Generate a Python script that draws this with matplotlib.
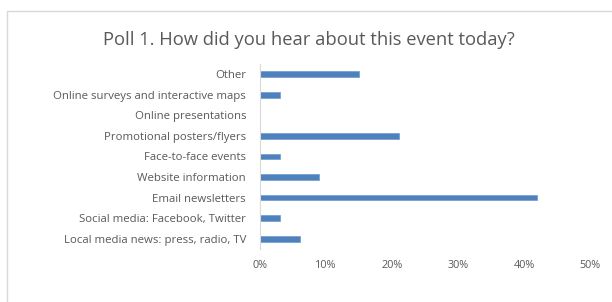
import matplotlib
matplotlib.use("Agg")
import matplotlib.pyplot as plt
from matplotlib.patches import Rectangle
from matplotlib.ticker import PercentFormatter

categories = ["Local media news: press, radio, TV",
              "Social media: Facebook, Twitter",
              "Email newsletters",
              "Website information",
              "Face-to-face events",
              "Promotional posters/flyers",
              "Online presentations",
              "Online surveys and interactive maps",
              "Other"]
values = [6, 3, 42, 9, 3, 21, 0, 3, 15]
xticks = [0, 10, 20, 30, 40, 50]

plt.rcParams['font.family'] = ['Open Sans', 'DejaVu Sans']

fig = plt.figure(figsize=(6.12, 3.02), dpi=100)

# chart frame
fig.patches.append(Rectangle((7 / 612, -0.05), 1.1, 1 - 11 / 302 + 0.05,
                             transform=fig.transFigure, fill=False,
                             edgecolor="#d9d9d9", linewidth=1.0))

ax = fig.add_axes([260 / 612, 1 - 249 / 302, 330 / 612, 185 / 302])
y = range(len(categories))
ax.barh(y, values, height=0.28, color="#4f81bd", edgecolor="#6f9bd1", linewidth=0.5)

ax.set_xlim(0, 50)
ax.set_ylim(-0.5, len(categories) - 0.5)
ax.set_yticks(list(y))
ax.set_yticklabels(categories)
ax.set_xticks(xticks)
ax.xaxis.set_major_formatter(PercentFormatter(decimals=0))

for s in ["top", "right", "bottom"]:
    ax.spines[s].set_visible(False)
ax.spines["left"].set_color("#d9d9d9")
ax.tick_params(axis="both", length=0, colors="#595959")
ax.tick_params(axis="y", labelsize=8.2, pad=10)
ax.tick_params(axis="x", labelsize=7.8, pad=8)

fig.text(309 / 612, 1 - 40 / 302, "Poll 1. How did you hear about this event today?",
         ha="center", va="center", fontsize=13.2, color="#595959")

fig.savefig("out.png", dpi=100)
